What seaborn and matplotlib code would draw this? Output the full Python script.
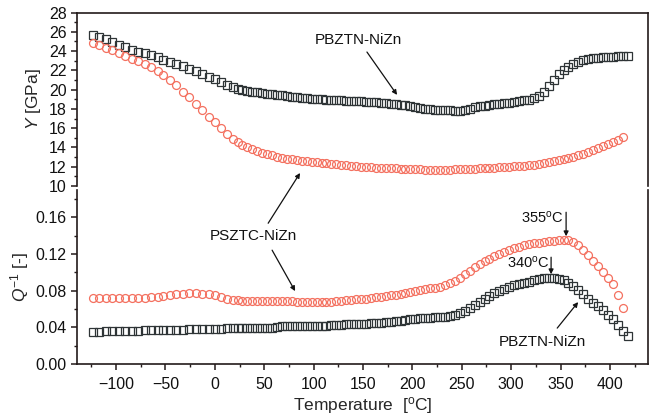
import numpy as np
import pandas as pd
import matplotlib
matplotlib.use("Agg")
import matplotlib.pyplot as plt
import seaborn as sns
from matplotlib.ticker import MultipleLocator

# ---------------- data ----------------
temperature = [-123, -117, -110, -104, -97, -91, -84, -78, -71, -65, -58, -52, -45, -39, -32, -26, -19, -13, -6, 0, 6, 12,
               18, 23, 28, 33, 38, 43, 48, 53, 58, 63,
               68, 73, 78, 83, 88, 93, 98, 103, 108, 113,
               118, 123, 128, 133, 138, 143, 148, 153, 158, 163,
               168, 173, 178, 183, 188, 193, 198, 203, 208, 213,
               218, 223, 228, 233, 238, 243, 248, 253, 258, 263,
               268, 273, 278, 283, 288, 293, 298, 303, 308, 313,
               318, 323, 328, 333, 338, 343, 348, 353, 358, 363,
               368, 373, 378, 383, 388, 393, 398, 403, 408, 413,
               418]

Y_pbztn = [25.7, 25.45, 25.2, 24.95, 24.65, 24.4, 24.15, 23.95, 23.75, 23.55, 23.35, 23.1, 22.9, 22.65, 22.4, 22.15, 21.9, 21.65, 21.35, 21.1, 20.8, 20.5,
           20.25, 20.1, 20.0, 19.9, 19.8, 19.72, 19.65, 19.58, 19.52, 19.45,
           19.4, 19.32, 19.25, 19.2, 19.15, 19.1, 19.05, 19.0, 18.98, 18.95,
           18.92, 18.9, 18.88, 18.85, 18.82, 18.8, 18.78, 18.75, 18.72, 18.7,
           18.65, 18.6, 18.55, 18.5, 18.45, 18.4, 18.3, 18.2, 18.1, 18.0,
           17.95, 17.92, 17.9, 17.88, 17.85, 17.82, 17.82, 17.88, 18.0, 18.15,
           18.25, 18.35, 18.42, 18.5, 18.55, 18.6, 18.65, 18.72, 18.8, 18.88,
           18.95, 19.1, 19.35, 19.8, 20.4, 21.0, 21.6, 22.0, 22.35, 22.65,
           22.9, 23.05, 23.2, 23.28, 23.33, 23.37, 23.4, 23.42, 23.45, 23.48,
           23.5]

Y_psztc = [24.8, 24.6, 24.35, 24.1, 23.8, 23.5, 23.2, 22.95, 22.65, 22.35, 21.95, 21.5, 21.0, 20.45, 19.8, 19.2, 18.5, 17.85, 17.2, 16.6, 16.0, 15.4,
           14.9, 14.55, 14.25, 14.0, 13.8, 13.6, 13.45, 13.3, 13.18, 13.05,
           12.95, 12.85, 12.75, 12.68, 12.62, 12.56, 12.5, 12.45, 12.4, 12.35,
           12.3, 12.25, 12.2, 12.15, 12.1, 12.05, 12.0, 11.97, 11.94, 11.9,
           11.88, 11.86, 11.84, 11.82, 11.8, 11.78, 11.76, 11.74, 11.72, 11.7,
           11.7, 11.7, 11.7, 11.7, 11.7, 11.72, 11.74, 11.76, 11.78, 11.8,
           11.82, 11.85, 11.88, 11.9, 11.93, 11.96, 12.0, 12.03, 12.07, 12.12,
           12.17, 12.23, 12.3, 12.38, 12.46, 12.55, 12.65, 12.77, 12.9, 13.05,
           13.2, 13.37, 13.55, 13.75, 13.95, 14.15, 14.35, 14.55, 14.75, 15.05]

Q_pbztn = [0.0352, 0.0353, 0.0355, 0.0357, 0.0359, 0.0361, 0.0363, 0.0365, 0.0366, 0.0368, 0.0369, 0.037, 0.0372, 0.0374, 0.0376, 0.0378, 0.038, 0.0382, 0.0384, 0.0386, 0.0387, 0.0388,
           0.0389, 0.039, 0.039, 0.0391, 0.0392, 0.0393, 0.0394, 0.0395, 0.0397, 0.0405,
           0.0412, 0.0414, 0.0415, 0.0416, 0.0416, 0.0417, 0.0417, 0.0418, 0.0418, 0.042,
           0.0423, 0.0426, 0.0429, 0.0432, 0.0435, 0.0437, 0.044, 0.0442, 0.0445, 0.0449,
           0.0453, 0.0458, 0.0463, 0.0468, 0.0474, 0.048, 0.0486, 0.0492, 0.0498, 0.0502,
           0.0506, 0.0509, 0.0512, 0.0515, 0.0522, 0.0535, 0.0552, 0.0578, 0.061, 0.0645,
           0.0682, 0.0715, 0.0745, 0.0775, 0.08, 0.0822, 0.0843, 0.086, 0.0875, 0.0888,
           0.09, 0.0912, 0.0924, 0.0934, 0.094, 0.0938, 0.0928, 0.0912, 0.0885, 0.085,
           0.0805, 0.076, 0.0715, 0.067, 0.0628, 0.0589, 0.054, 0.049, 0.0425, 0.036,
           0.031]

Q_psztc = [0.0716, 0.0716, 0.0716, 0.0716, 0.0717, 0.0718, 0.072, 0.0722, 0.0726, 0.073, 0.0737, 0.0746, 0.0755, 0.0762, 0.0767, 0.077, 0.077, 0.0768, 0.076, 0.0748, 0.0732, 0.071,
           0.0698, 0.0694, 0.0692, 0.0691, 0.069, 0.069, 0.0689, 0.0688, 0.0687, 0.0686,
           0.0685, 0.0684, 0.0683, 0.0682, 0.0681, 0.068, 0.068, 0.068, 0.068, 0.068,
           0.0682, 0.0685, 0.069, 0.0695, 0.07, 0.0705, 0.071, 0.0715, 0.072, 0.0727,
           0.0733, 0.074, 0.0748, 0.0757, 0.0766, 0.0776, 0.0786, 0.0797, 0.0807, 0.0816,
           0.0825, 0.0833, 0.0845, 0.0862, 0.0882, 0.0908, 0.094, 0.0978, 0.102, 0.106,
           0.1095, 0.1122, 0.115, 0.1178, 0.1203, 0.1225, 0.1245, 0.1265, 0.1283, 0.1297,
           0.1308, 0.1317, 0.1326, 0.1333, 0.1339, 0.1344, 0.135, 0.1357, 0.1352, 0.133,
           0.13, 0.1245, 0.119, 0.113, 0.107, 0.101, 0.0935, 0.087, 0.075, 0.061]

x_ticks = [-100, -50, 0, 50, 100, 150, 200, 250, 300, 350, 400]
y_ticks_top = [10, 12, 14, 16, 18, 20, 22, 24, 26, 28]
y_ticks_bot = [0.00, 0.04, 0.08, 0.12, 0.16]

# ---------------- style ----------------
sns.set_style("ticks")
plt.rcParams["font.family"] = ["Liberation Sans", "DejaVu Sans"]
plt.rcParams["mathtext.fontset"] = "custom"
plt.rcParams["mathtext.rm"] = "Liberation Sans"
plt.rcParams["mathtext.it"] = "Liberation Sans:italic"
plt.rcParams["mathtext.bf"] = "Liberation Sans:bold"

SPINE = "#231a1a"
BLACK_M = "#2e3436"
RED_M = "#f4705f"

fig = plt.figure(figsize=(6.53, 4.17), dpi=100)
W, H = 653.0, 417.0
x0, x1 = 77.0, 648.0
ax_top = fig.add_axes([x0 / W, 1 - 186.0 / H, (x1 - x0) / W, (186.0 - 12.5) / H])
ax_bot = fig.add_axes([x0 / W, 1 - 364.0 / H, (x1 - x0) / W, (364.0 - 190.0) / H], sharex=ax_top)
for ax in (ax_top, ax_bot):
    ax.patch.set_visible(False)

df_sq = pd.DataFrame({"T": temperature, "Y": Y_pbztn, "Q": Q_pbztn})
df_ci = pd.DataFrame({"T": temperature[:len(Y_psztc)], "Y": Y_psztc, "Q": Q_psztc})

common = dict(linestyle="none", markerfacecolor="none", markeredgewidth=0.9)
sns.lineplot(data=df_sq, x="T", y="Y", ax=ax_top, marker="s", markersize=5.2,
             markeredgecolor=BLACK_M, color=BLACK_M, **common)
sns.lineplot(data=df_ci, x="T", y="Y", ax=ax_top, marker="o", markersize=5.7,
             markeredgecolor=RED_M, color=RED_M, **common)
sns.lineplot(data=df_sq, x="T", y="Q", ax=ax_bot, marker="s", markersize=5.2,
             markeredgecolor=BLACK_M, color=BLACK_M, **common)
sns.lineplot(data=df_ci, x="T", y="Q", ax=ax_bot, marker="o", markersize=5.7,
             markeredgecolor=RED_M, color=RED_M, **common)

# ---------------- axes formatting ----------------
ax_bot.set_xlim(-139.5, 438.5)
ax_top.set_ylim(10, 28)
ax_bot.set_ylim(0, 0.19)

for ax in (ax_top, ax_bot):
    for s in ax.spines.values():
        s.set_color(SPINE)
        s.set_linewidth(1.2)
    ax.tick_params(axis="both", which="major", direction="out", length=4.5, width=1.1,
                   color=SPINE, labelsize=11.5, labelcolor="#111111", pad=3)
    ax.tick_params(axis="both", which="minor", direction="out", length=2.5, width=1.0, color=SPINE)
    ax.tick_params(right=False, top=False, which="both")

ax_top.spines["bottom"].set_visible(False)
ax_bot.spines["top"].set_visible(False)
ax_top.tick_params(axis="x", which="both", bottom=False, labelbottom=False)

ax_top.set_yticks(y_ticks_top)
ax_top.yaxis.set_minor_locator(MultipleLocator(1))
ax_bot.set_yticks(y_ticks_bot)
ax_bot.set_yticklabels([f"{v:.2f}" for v in y_ticks_bot])
ax_bot.yaxis.set_minor_locator(MultipleLocator(0.02))
ax_bot.set_xticks(x_ticks)
ax_bot.xaxis.set_minor_locator(MultipleLocator(25))
ax_bot.tick_params(axis="x", which="major", pad=5)

ax_top.set_xlabel("")
ax_top.set_ylabel("$Y$ [GPa]", fontsize=12.5, labelpad=4)
ax_bot.set_ylabel("$Q^{-1}$ [-]", fontsize=12.5, labelpad=3)
ax_bot.set_xlabel("Temperature  [$^{\\mathrm{o}}$C]", fontsize=12.5, labelpad=2)

# ---------------- annotations ----------------
arrow = dict(arrowstyle="-|>", color="#111111", lw=0.9, mutation_scale=7, shrinkA=0, shrinkB=0)
txt = dict(fontsize=11, color="#111111", ha="center", va="center")

ax_top.text(145, 25.15, "PBZTN-NiZn", **txt)
ax_top.annotate("", xy=(184.5, 19.45), xytext=(154, 23.9), arrowprops=arrow, annotation_clip=False)

ax_bot.text(39, 0.1395, "PSZTC-NiZn", **txt)
ax_bot.annotate("", xy=(86.3, 11.35), xycoords=ax_top.transData, xytext=(54, 0.1537),
                textcoords="data", arrowprops=arrow, annotation_clip=False)
ax_bot.annotate("", xy=(81.3, 0.0796), xytext=(58, 0.1243), arrowprops=arrow, annotation_clip=False)

ax_bot.text(332, 0.1602, "355$^{\\mathrm{o}}$C", fontsize=10.5, color="#111111", ha="center", va="center")
ax_bot.annotate("", xy=(355.6, 0.1395), xytext=(355.6, 0.1657), arrowprops=arrow, annotation_clip=False)
ax_bot.text(317, 0.111, "340$^{\\mathrm{o}}$C", fontsize=10.5, color="#111111", ha="center", va="center")
ax_bot.annotate("", xy=(340.4, 0.098), xytext=(340.4, 0.1166), arrowprops=arrow, annotation_clip=False)

ax_bot.text(331.5, 0.024, "PBZTN-NiZn", **txt)
ax_bot.annotate("", xy=(367.8, 0.0676), xytext=(346.6, 0.0392), arrowprops=arrow, annotation_clip=False)

fig.savefig("out.png", dpi=100, facecolor="white")
